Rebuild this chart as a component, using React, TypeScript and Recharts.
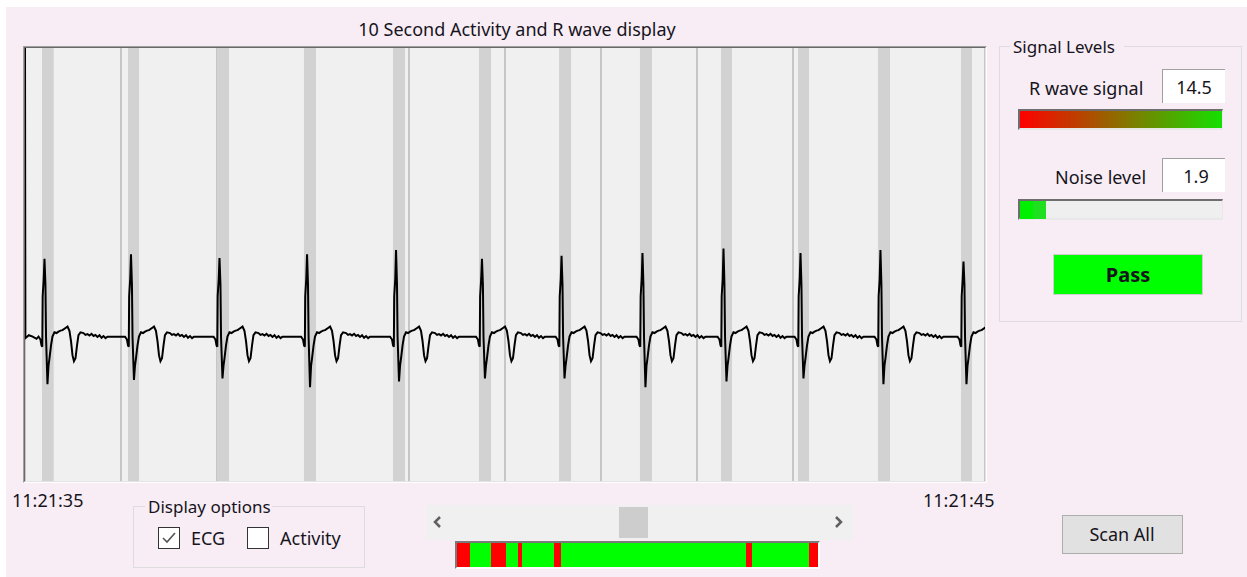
import React from "react";
import {
  LineChart,
  Line,
  XAxis,
  YAxis,
  CartesianGrid,
  ReferenceArea,
  BarChart,
  Bar,
} from "recharts";

// one tick per second over the 10 s window
const secondTicks = [0, 1, 2, 3, 4, 5, 6, 7, 8, 9, 10];
const startLabel = "11:21:35";
const endLabel = "11:21:45";

// detected R waves: time (s), R peak and S trough (mV)
const beatTimes = [0.203, 1.104, 2.026, 2.938, 3.865, 4.76, 5.589, 6.432, 7.276, 8.078, 8.911, 9.776];
const rPeaks = [0.54, 0.57, 0.545, 0.57, 0.6, 0.54, 0.56, 0.58, 0.61, 0.58, 0.6, 0.52];
const sTroughs = [-0.33, -0.3, -0.29, -0.35, -0.31, -0.29, -0.29, -0.35, -0.31, -0.29, -0.33, -0.33];

// R wave detection windows (s)
const bandStarts = [0.177, 1.073, 2.0, 2.906, 3.833, 4.729, 5.563, 6.406, 7.25, 8.052, 8.885, 9.75];
const bandEnds = [0.299, 1.188, 2.125, 3.031, 3.958, 4.854, 5.688, 6.531, 7.365, 8.167, 9.01, 9.865];

// trace before the first beat
const leadInTimes = [0, 0.004, 0.04, 0.08, 0.12];
const leadInValues = [2.0, -0.01, 0.01, 0.0, -0.015];

// one beat: offsets from the R peak (ms) and level (mV)
const beatOffsetsMs = [
  -62, -42, -31, -23, -19, -8, 0, 10, 16, 31, 42, 52, 68, 83, 104, 125, 146, 167, 188, 219, 240,
  260, 276, 292, 307, 323, 339, 354, 375, 406, 427, 448, 469, 490, 511, 531, 552, 573, 594, 615,
  636, 656,
];
const beatShape: (number | "R" | "S")[] = [
  0.0, -0.02, -0.06, -0.07, 0.28, 0.4, "R", 0.36, 0.0, "S", -0.2, -0.15, -0.06, 0.0, 0.03, 0.025,
  0.035, 0.042, 0.045, 0.06, 0.07, 0.04, -0.03, -0.13, -0.17, -0.15, -0.06, 0.01, 0.03, 0.025,
  0.012, 0.018, 0.008, 0.02, 0.005, 0.012, -0.002, 0.01, -0.008, 0.004, -0.01, 0.0,
];

// recording quality strip (relative lengths, ok / noisy)
const qualityLengths = [13, 21, 15, 12, 4, 32, 7, 185, 6, 57, 9];
const qualityOk = [false, true, false, true, false, true, false, true, false, true, false];

const rWaveSignal = 14.5;
const noiseLevel = 1.9;
const noiseMax = 15;

const ecgData = (() => {
  const pts = leadInTimes.map((t, i) => ({ t, v: leadInValues[i] }));
  beatTimes.forEach((bt, b) => {
    beatOffsetsMs.forEach((ms, k) => {
      const s = beatShape[k];
      const v = s === "R" ? rPeaks[b] : s === "S" ? sTroughs[b] : s;
      pts.push({ t: bt + ms / 1000, v });
    });
  });
  return pts;
})();

const qualityRow = [
  qualityLengths.reduce((row: Record<string, number | string>, len, i) => {
    row[`s${i}`] = len;
    return row;
  }, { name: "q" }),
];
const qualityTotal = qualityLengths.reduce((a, b) => a + b, 0);

const FONT = "'Noto Sans', 'Open Sans', sans-serif";
const INK = "#16141c";
const PINK = "#f8edf5";

function Text({ x, y, children, size = 18, center = false, bold = false }: any) {
  return (
    <div
      style={{
        position: "absolute",
        left: x,
        top: y - 13,
        height: 26,
        lineHeight: "26px",
        fontSize: size,
        fontWeight: bold ? 700 : 400,
        color: INK,
        whiteSpace: "nowrap",
        transform: center ? "translateX(-50%)" : undefined,
      }}
    >
      {children}
    </div>
  );
}

function Box({ x, y, w, h, style }: any) {
  return (
    <div
      style={{
        position: "absolute",
        left: x,
        top: y,
        width: w,
        height: h,
        boxSizing: "border-box",
        ...style,
      }}
    />
  );
}

function Chevron({ x, y, dir }: any) {
  const pts = dir < 0 ? "7,2 2,7 7,12" : "2,2 7,7 2,12";
  return (
    <svg style={{ position: "absolute", left: x, top: y }} width={10} height={14}>
      <polyline points={pts} fill="none" stroke="#606060" strokeWidth={2.5} />
    </svg>
  );
}

function CheckBox({ x, y, checked }: any) {
  return (
    <div
      style={{
        position: "absolute",
        left: x,
        top: y,
        width: 22,
        height: 22,
        boxSizing: "border-box",
        border: "1px solid #333",
        background: "#fff",
      }}
    >
      {checked && (
        <svg width={20} height={20} style={{ position: "absolute", left: 0, top: 0 }}>
          <polyline points="4,10 8,14 16,5" fill="none" stroke="#555" strokeWidth={1.6} />
        </svg>
      )}
    </div>
  );
}

export default function App() {
  return (
    <div
      style={{
        position: "absolute",
        left: 0,
        top: 0,
        width: 1247,
        height: 577,
        background: "#fff",
        fontFamily: FONT,
        overflow: "hidden",
      }}
    >
      <Box x={6} y={7} w={1241} h={570} style={{ background: PINK }} />

      <Text x={517} y={29} center>
        10 Second Activity and R wave display
      </Text>

      {/* ECG plot with sunken frame */}
      <Box
        x={23}
        y={46}
        w={964}
        h={437}
        style={{
          borderTop: "1px solid #a0a0a0",
          borderLeft: "1px solid #a0a0a0",
          borderRight: "1px solid #fff",
          borderBottom: "1px solid #fff",
        }}
      />
      <Box
        x={24}
        y={47}
        w={962}
        h={435}
        style={{
          borderTop: "1px solid #696969",
          borderLeft: "1px solid #696969",
          borderRight: "1px solid #e3e3e3",
          borderBottom: "1px solid #e3e3e3",
          background: "#f0f0f0",
        }}
      />
      <div style={{ position: "absolute", left: 25, top: 48 }}>
        <LineChart width={960} height={433} data={ecgData} margin={{ top: 0, right: 0, bottom: 0, left: 0 }}>
          <CartesianGrid horizontal={false} stroke="#b8b8b8" strokeWidth={1.5} />
          <XAxis type="number" dataKey="t" domain={[0, 10]} ticks={secondTicks} allowDataOverflow hide />
          <YAxis type="number" domain={[-1, 2]} allowDataOverflow hide />
          {bandStarts.map((s, i) => (
            <ReferenceArea
              key={`band-${i}`}
              x1={s}
              x2={bandEnds[i]}
              y1={-1}
              y2={2}
              fill="#d2d2d2"
              fillOpacity={1}
              stroke="none"
            />
          ))}
          <Line
            type="linear"
            dataKey="v"
            stroke="#000"
            strokeWidth={2}
            dot={false}
            isAnimationActive={false}
          />
        </LineChart>
      </div>

      <Text x={12} y={500}>{startLabel}</Text>
      <Text x={923} y={500}>{endLabel}</Text>

      {/* Display options */}
      <Box x={133} y={506} w={232} h={62} style={{ border: "1px solid #dcdcdc" }} />
      <div style={{ position: "absolute", left: 145, top: 496, width: 127, height: 20, background: PINK }} />
      <Text x={148} y={507} size={17}>Display options</Text>
      <CheckBox x={158} y={527} checked />
      <Text x={191} y={538}>ECG</Text>
      <CheckBox x={247} y={527} />
      <Text x={280} y={538}>Activity</Text>

      {/* scrollbar + quality strip */}
      <Box x={426} y={505} w={427} h={35} style={{ background: "#f0f0f0" }} />
      <Chevron x={433} y={515} dir={-1} />
      <Chevron x={834} y={515} dir={1} />
      <Box x={619} y={507} w={29} h={31} style={{ background: "#cdcdcd" }} />
      <Box
        x={455}
        y={541}
        w={365}
        h={28}
        style={{
          borderTop: "2px solid #7a7a7a",
          borderLeft: "2px solid #7a7a7a",
          borderRight: "2px solid #fff",
          borderBottom: "2px solid #fff",
        }}
      />
      <div style={{ position: "absolute", left: 457, top: 543 }}>
        <BarChart
          width={361}
          height={24}
          data={qualityRow}
          layout="vertical"
          barCategoryGap={0}
          margin={{ top: 0, right: 0, bottom: 0, left: 0 }}
        >
          <XAxis type="number" domain={[0, qualityTotal]} hide />
          <YAxis type="category" dataKey="name" hide />
          {qualityLengths.map((_, i) => (
            <Bar
              key={`q-${i}`}
              dataKey={`s${i}`}
              stackId="q"
              fill={qualityOk[i] ? "#00ff00" : "#ff0000"}
              isAnimationActive={false}
            />
          ))}
        </BarChart>
      </div>

      {/* Signal Levels */}
      <Box x={999} y={46} w={243} h={276} style={{ border: "1px solid #dcdcdc" }} />
      <div style={{ position: "absolute", left: 1010, top: 36, width: 114, height: 20, background: PINK }} />
      <Text x={1013} y={47} size={17}>Signal Levels</Text>

      <Text x={1029} y={88}>R wave signal</Text>
      <Box
        x={1162}
        y={69}
        w={63}
        h={34}
        style={{ background: "#fff", borderTop: "1px solid #a0a0a0", borderLeft: "1px solid #a0a0a0" }}
      />
      <Text x={1194} y={87} center>{rWaveSignal.toFixed(1)}</Text>
      <Box
        x={1018}
        y={109}
        w={205}
        h={21}
        style={{
          borderTop: "2px solid #6e6e6e",
          borderLeft: "2px solid #6e6e6e",
          borderRight: "1px solid #e8e8e8",
          borderBottom: "2px solid #e8e8e8",
          background: "linear-gradient(to right, #ff0000, #8a7000 50%, #14e000)",
        }}
      />

      <Text x={1055} y={177}>Noise level</Text>
      <Box
        x={1162}
        y={158}
        w={63}
        h={34}
        style={{ background: "#fff", borderTop: "1px solid #a0a0a0", borderLeft: "1px solid #a0a0a0" }}
      />
      <Text x={1196} y={176} center>{noiseLevel.toFixed(1)}</Text>
      <Box
        x={1018}
        y={199}
        w={205}
        h={21}
        style={{
          borderTop: "2px solid #6e6e6e",
          borderLeft: "2px solid #6e6e6e",
          borderRight: "1px solid #e8e8e8",
          borderBottom: "2px solid #e8e8e8",
          background: "#efefef",
        }}
      />
      <Box
        x={1020}
        y={201}
        w={Math.round((201 * noiseLevel) / noiseMax) + 1}
        h={18}
        style={{ background: "linear-gradient(to right, #00f000 50%, #1ee01e 50%)" }}
      />

      <Box x={1053} y={254} w={150} h={41} style={{ background: "#00ff00", border: "1px solid #cfcfcf" }} />
      <Text x={1128} y={275} center bold size={20}>Pass</Text>

      <Box x={1062} y={515} w={121} h={39} style={{ background: "#e1e1e1", border: "1px solid #adadad" }} />
      <Text x={1122} y={534} center>Scan All</Text>
    </div>
  );
}
